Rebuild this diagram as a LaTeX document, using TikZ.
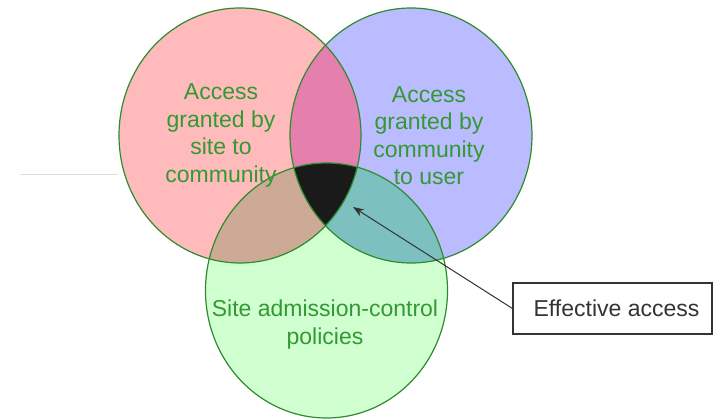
\documentclass[tikz,border=0pt]{standalone}
\usepackage{fontspec}
\setmainfont{Liberation Sans}
\usetikzlibrary{arrows.meta}
\definecolor{redfill}{HTML}{FFBBBB}
\definecolor{bluefill}{HTML}{BBBBFF}
\definecolor{greenfill}{HTML}{D0FFD0}
\definecolor{rbfill}{HTML}{E57FAE}
\definecolor{rgfill}{HTML}{CDAA95}
\definecolor{bgfill}{HTML}{7DC0C0}
\definecolor{allfill}{HTML}{1A1A1A}
\definecolor{ringline}{HTML}{2E8B2E}
\definecolor{labelgreen}{HTML}{339933}
\definecolor{boxline}{HTML}{333333}
\definecolor{faint}{HTML}{DDDDDD}
\begin{document}
\begin{tikzpicture}[x=1pt,y=-1pt,
  setlabel/.style={text=labelgreen,font=\fontsize{23}{27.5}\selectfont,align=center,inner sep=0pt},
  ring/.style={draw=ringline,line width=1.2pt},
  calloutbox/.style={draw=boxline,line width=1.1pt,minimum width=199pt,minimum height=51pt,
    inner sep=0pt,font=\fontsize{23}{27.5}\selectfont,text=black!80},
  pointer/.style={draw=boxline,line width=1pt,-{Stealth[length=11pt,width=8pt]}}]
\useasboundingbox (0,0) rectangle (713,419);
\def\sitecirc{(240,135.5) ellipse [x radius=121,y radius=127.5]}
\def\commcirc{(411,135.5) ellipse [x radius=121,y radius=127.5]}
\def\admcirc{(326.5,290.5) ellipse [x radius=121,y radius=127.5]}

% faint rule on the left
\coordinate (ruleA) at (20,175);
\coordinate (ruleB) at (118,175);
\draw[faint,line width=1pt] (ruleA) -- (ruleB);

% single sets
\fill[redfill] \sitecirc;
\fill[bluefill] \commcirc;
\fill[greenfill] \admcirc;

% pairwise overlaps
\begin{scope}
  \clip \sitecirc;
  \fill[rbfill] \commcirc;
  \fill[rgfill] \admcirc;
\end{scope}
\begin{scope}
  \clip \commcirc;
  \fill[bgfill] \admcirc;
\end{scope}
% triple overlap
\begin{scope}
  \clip \sitecirc;
  \clip \commcirc;
  \fill[allfill] \admcirc;
\end{scope}

% outlines
\draw[ring] \sitecirc;
\draw[ring] \commcirc;
\draw[ring] \admcirc;

% set labels
\node[setlabel] (site) at (221,135.5) {Access\\granted by\\site to\\community};
\node[setlabel] (comm) at (429,135.5) {Access\\granted by\\community\\to user};
\node[setlabel] (adm) at (325,324.5) {Site admission-control\\policies};

% callout
\node[calloutbox] (eff) at (612.5,308.5) {\hspace*{8pt}Effective access};
\coordinate (core) at (353,207);
\draw[pointer] (eff.west) -- (core);
\end{tikzpicture}
\end{document}
